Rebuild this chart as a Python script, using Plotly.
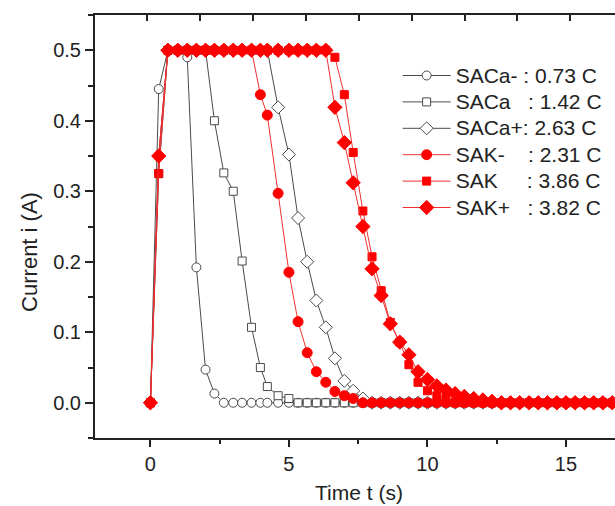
import plotly.graph_objects as go

# shared time stamps (s)
time_s = [0, 0.30, 0.63, 0.99, 1.33, 1.66, 1.99, 2.31, 2.65, 2.99, 3.31, 3.65, 3.97, 4.22,
          4.61, 5.00, 5.33, 5.66, 5.99, 6.33, 6.66, 7.00, 7.32, 7.67, 8.00, 8.33, 8.66, 9.00,
          9.33, 9.66, 10.00, 10.34, 10.67, 11.00, 11.33, 11.67, 12.00, 12.33, 12.67, 13.00,
          13.33, 13.67, 14.00, 14.33, 14.67, 15.00, 15.33, 15.67, 16.00, 16.33, 16.67, 17.00]

saca_minus = [0, 0.445, 0.5, 0.5, 0.49, 0.192, 0.047, 0.013, 0, 0, 0, 0, 0, 0,
              0, 0, 0, 0, 0, 0, 0, 0, 0, 0, 0, 0, 0, 0,
              0, 0, 0, 0, 0, 0, 0, 0, 0, 0, 0, 0, 0, 0, 0, 0, 0, 0, 0, 0, 0, 0, 0, 0]
saca = [0, 0.325, 0.5, 0.5, 0.5, 0.5, 0.5, 0.40, 0.326, 0.30, 0.201, 0.107, 0.050, 0.023,
        0.010, 0.006, 0, 0, 0, 0, 0, 0, 0, 0, 0, 0, 0, 0,
        0, 0, 0, 0, 0, 0, 0, 0, 0, 0, 0, 0, 0, 0, 0, 0, 0, 0, 0, 0, 0, 0, 0, 0]
saca_plus = [0, 0.35, 0.5, 0.5, 0.5, 0.5, 0.5, 0.5, 0.5, 0.5, 0.5, 0.5, 0.5, 0.5,
             0.419, 0.352, 0.262, 0.200, 0.145, 0.107, 0.063, 0.031, 0.017, 0.006, 0, 0, 0, 0,
             0, 0, 0, 0, 0, 0, 0, 0, 0, 0, 0, 0, 0, 0, 0, 0, 0, 0, 0, 0, 0, 0, 0, 0]
sak_minus = [0, 0.35, 0.5, 0.5, 0.5, 0.5, 0.5, 0.5, 0.5, 0.5, 0.5, 0.5, 0.437, 0.408,
             0.297, 0.185, 0.115, 0.071, 0.044, 0.029, 0.016, 0.010, 0.006, 0, 0, 0, 0, 0,
             0, 0, 0, 0, 0, 0, 0, 0, 0, 0, 0, 0, 0, 0, 0, 0, 0, 0, 0, 0, 0, 0, 0, 0]
sak = [0, 0.325, 0.5, 0.5, 0.5, 0.5, 0.5, 0.5, 0.5, 0.5, 0.5, 0.5, 0.5, 0.5,
       0.5, 0.5, 0.5, 0.5, 0.5, 0.5, 0.49, 0.437, 0.355, 0.272, 0.207, 0.159, 0.114, 0.086,
       0.054, 0.029, 0.017, 0.010, 0.006, 0, 0, 0, 0, 0, 0, 0, 0, 0, 0, 0, 0, 0, 0, 0, 0, 0, 0, 0]
sak_plus = [0, 0.35, 0.5, 0.5, 0.5, 0.5, 0.5, 0.5, 0.5, 0.5, 0.5, 0.5, 0.5, 0.5,
            0.5, 0.5, 0.5, 0.5, 0.5, 0.5, 0.419, 0.369, 0.312, 0.250, 0.190, 0.152, 0.112, 0.086,
            0.068, 0.044, 0.033, 0.024, 0.018, 0.013, 0.009, 0.006, 0.004, 0.002, 0, 0, 0, 0,
            0, 0, 0, 0, 0, 0, 0, 0, 0, 0]

names = ["SACa- : 0.73 C",
         "SACa\u00a0\u00a0\u00a0: 1.42 C",
         "SACa+: 2.63 C",
         "SAK-\u00a0\u00a0\u00a0\u00a0: 2.31 C",
         "SAK\u00a0\u00a0\u00a0\u00a0\u00a0: 3.86 C",
         "SAK+\u00a0\u00a0\u00a0: 3.82 C"]

series = [saca_minus, saca, saca_plus, sak_minus, sak, sak_plus]
symbols = ["circle", "square", "diamond", "circle", "square", "diamond"]
sizes = [9, 8, 10, 10, 8, 11]
BLACK = "#4a4a4a"
RED = "#ff0000"

fig = go.Figure()
for k, (vals, name, sym, sz) in enumerate(zip(series, names, symbols, sizes)):
    black = k < 3
    fig.add_trace(go.Scatter(
        x=time_s, y=vals,
        name='<span style="font-size:21px">' + name + '</span>',
        mode="lines+markers",
        line=dict(color=BLACK if black else "#f03030", width=1),
        marker=dict(symbol=sym, size=sz,
                    color="white" if black else RED,
                    line=dict(color=BLACK if black else RED, width=1)),
    ))

# invisible trace to carry the top axis
fig.add_trace(go.Scatter(x=[0], y=[None], xaxis="x2", showlegend=False,
                         hoverinfo="skip", mode="lines"))

FONT = "Liberation Sans, Arial, sans-serif"
fig.update_layout(
    width=615, height=506,
    margin=dict(l=95, r=0, t=15, b=68),
    paper_bgcolor="white", plot_bgcolor="white",
    font=dict(family=FONT, size=20, color="#222"),
    showlegend=True,
    legend=dict(x=0.582, y=0.90, xanchor="left", yanchor="top",
                bgcolor="rgba(0,0,0,0)", borderwidth=0,
                font=dict(size=18, color="#222"), itemwidth=48,
                tracegroupgap=0),
    xaxis=dict(range=[-2, 16.77], tick0=0, dtick=5, ticks="outside", ticklen=7,
               tickwidth=1.5, tickcolor="#222", showline=True, linewidth=2,
               linecolor="#222", showgrid=False, zeroline=False,
               minor=dict(dtick=2.5, ticks="outside", ticklen=4, tickcolor="#222",
                          tickwidth=1.5, showgrid=False),
               tickfont=dict(size=20)),
    xaxis2=dict(range=[-2, 16.77], overlaying="x", side="top", tick0=-0.12, dtick=1.91,
                ticks="inside", ticklen=6, tickwidth=1.5, tickcolor="#222",
                showticklabels=False, showline=True, linewidth=2, linecolor="#222",
                showgrid=False, zeroline=False),
    yaxis=dict(range=[-0.05, 0.55], tick0=0, dtick=0.1, tickformat=".1f",
               ticks="outside", ticklen=8, tickwidth=1.5, tickcolor="#222",
               showline=True, linewidth=2, linecolor="#222", showgrid=False,
               zeroline=False,
               minor=dict(dtick=0.05, ticks="outside", ticklen=5, tickcolor="#222",
                          tickwidth=1.5, showgrid=False),
               tickfont=dict(size=20)),
    annotations=[
        dict(text="Time t (s)", xref="paper", yref="paper", x=0.508, y=-0.130,
             xanchor="center", yanchor="middle", showarrow=False,
             font=dict(size=21, color="#222")),
        dict(text="Current i (A)", xref="paper", yref="paper", x=-0.125, y=0.44,
             xanchor="center", yanchor="middle", showarrow=False, textangle=-90,
             font=dict(size=22, color="#222")),
    ],
)

fig.write_html("out.html", config={"displayModeBar": False},
               post_script="document.body.style.margin='0px';document.body.style.overflow='hidden';")
